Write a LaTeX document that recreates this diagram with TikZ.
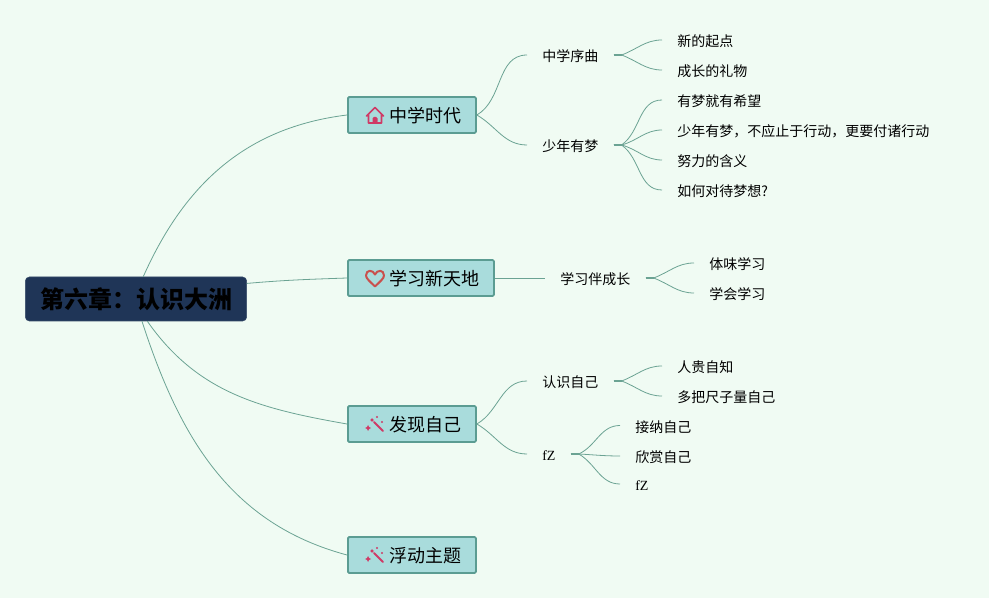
\documentclass[tikz,border=0pt]{standalone}
\usepackage{fontspec}
\setmainfont{Liberation Serif}
\newfontfamily\cjk{Noto Sans CJK SC}
\usetikzlibrary{positioning}
\definecolor{pagebg}{HTML}{F0FBF3}
\definecolor{rootfill}{HTML}{1F3557}
\definecolor{topicfill}{HTML}{A9DCDC}
\definecolor{topicline}{HTML}{5B9C92}
\definecolor{edgecol}{HTML}{6BA393}
\definecolor{iconpink}{HTML}{CF3A66}
\definecolor{iconred}{HTML}{C9504D}
\tikzset{
	rootbox/.style={fill=rootfill,draw=rootfill!90!white,rounded corners=3pt,minimum width=166pt,minimum height=33pt,inner sep=0pt,text=black,text height=16.5pt,text depth=1.5pt,font=\cjk\fontsize{18}{18}\selectfont\bfseries},
	topic/.style={fill=topicfill,draw=topicline,line width=1.4pt,rounded corners=1pt,anchor=west,minimum height=27pt,inner ysep=0pt,inner xsep=10.5pt,text height=13.4pt,text depth=1.6pt,font=\cjk\fontsize{13.5}{13.5}\selectfont},
	subtopic/.style={anchor=west,inner xsep=11.25pt,inner ysep=0pt,text height=11pt,text depth=0.8pt,font=\cjk\fontsize{10.5}{10.5}\selectfont},
	leaf/.style={subtopic},
	edgeline/.style={draw=edgecol,line width=0.6pt},
	stub/.style={draw=edgecol,line width=1.1pt},
	pics/house/.style={code={
		\draw[iconpink,line width=1.2pt,line join=round,line cap=round] (-8.5,1) -- (0,-7.5) -- (8.5,1) (-6.5,-1) -- (-6.5,8) -- (6.5,8) -- (6.5,-1);
		\fill[iconpink,rounded corners=1pt] (-2.5,8) -- (-2.5,2) -- (2.5,2) -- (2.5,8) -- cycle;
	}},
	pics/heart/.style={code={
		\draw[iconred,line width=1.5pt,line join=round] (0,8) .. controls (-5,3) and (-9,0) .. (-9,-3) .. controls (-9,-9) and (-2,-9) .. (0,-4) .. controls (2,-9) and (9,-9) .. (9,-3) .. controls (9,0) and (5,3) .. (0,8) -- cycle;
	}},
	pics/wand/.style={code={
		\draw[iconpink,line width=1.5pt,line cap=round] (-1,-2) -- (8,7);
		\fill[iconpink] (-7,1) -- (-6,3) -- (-4,4) -- (-6,5) -- (-7,7) -- (-8,5) -- (-10,4) -- (-8,3) -- cycle;
		\fill[iconpink] (-3,-6) -- (-2.2,-4.8) -- (-1,-4) -- (-2.2,-3.2) -- (-3,-2) -- (-3.8,-3.2) -- (-5,-4) -- (-3.8,-4.8) -- cycle;
		\fill[iconpink] (2,-7) circle (1.1) (7,-2) circle (1.1);
	}},
}
\begin{document}
\begin{tikzpicture}[x=0.75pt,y=-0.75pt]
	\fill[pagebg] (0,0) rectangle (989,598);
	\useasboundingbox (0,0) rectangle (989,598);
	\node[rootbox] (root) at (136,299) {第六章：认识大洲};
	% topics
	\node[topic] (zhongxue) at (347,115) {\hspace*{21pt}中学时代};
	\node[topic] (xuexi) at (347,278) {\hspace*{21pt}学习新天地};
	\node[topic] (faxian) at (347,424) {\hspace*{21pt}发现自己};
	\node[topic] (fudong) at (347,555) {\hspace*{21pt}浮动主题};
	\pic at (375,115) {house};
	\pic at (375,278.5) {heart};
	\pic at (375,424) {wand};
	\pic at (375,555) {wand};
	% subtopics
	\node[subtopic] (xuqu) at (527,55) {中学序曲};
	\node[subtopic] (youmeng) at (527,145) {少年有梦};
	\node[subtopic] (banchengzhang) at (545,278) {学习伴成长};
	\node[subtopic] (renshi) at (527,381) {认识自己};
	\node[subtopic,font=\fontsize{10.5}{10.5}\selectfont] (fz) at (527,454) {fZ};
	% leaves
	\node[leaf] (qidian) at (662,40) {新的起点};
	\node[leaf] (liwu) at (662,70) {成长的礼物};
	\node[leaf] (xiwang) at (662,100) {有梦就有希望};
	\node[leaf] (xingdong) at (662,130) {少年有梦，不应止于行动，更要付诸行动};
	\node[leaf] (hanyi) at (662,160) {努力的含义};
	\node[leaf] (duidai) at (662,190) {如何对待梦想?};
	\node[leaf] (tiwei) at (694,263) {体味学习};
	\node[leaf] (xuehui) at (694,293) {学会学习};
	\node[leaf] (guizizhi) at (662,366) {人贵自知};
	\node[leaf] (chizi) at (662,396) {多把尺子量自己};
	\node[leaf] (jiena) at (620,425.5) {接纳自己};
	\node[leaf] (xinshang) at (620,456) {欣赏自己};
	\node[leaf,font=\fontsize{10.5}{10.5}\selectfont] (fzleaf) at (620,484) {fZ};
	% connectors
	\draw[edgeline] (root.72) to[out=66,in=187] (zhongxue.west);
	\draw[edgeline] (root.8) to[out=5,in=182] (xuexi.west);
	\draw[edgeline] (root.-63) to[out=-55,in=170] (faxian.west);
	\draw[edgeline] (root.-75) to[out=-72,in=165] (fudong.west);
	\foreach \a/\b/\o in {zhongxue/xuqu/30,zhongxue/youmeng/-30,faxian/renshi/30,faxian/fz/-30}
		\draw[edgeline] (\a.east) to[out=\o,in=180] (\b.west);
	\draw[edgeline] (xuexi.east) -- (banchengzhang.west);
	\foreach \a/\b/\o in {xuqu/qidian/20,xuqu/liwu/-20,youmeng/xiwang/35,youmeng/xingdong/15,youmeng/hanyi/-15,youmeng/duidai/-35,banchengzhang/tiwei/20,banchengzhang/xuehui/-20,renshi/guizizhi/20,renshi/chizi/-20,fz/jiena/25,fz/xinshang/-3,fz/fzleaf/-30}{
		\draw[stub] (\a.east) -- ++(8,0);
		\draw[edgeline] (\a.east) ++(8,0) to[out=\o,in=180] (\b.west);
	}
\end{tikzpicture}
\end{document}
